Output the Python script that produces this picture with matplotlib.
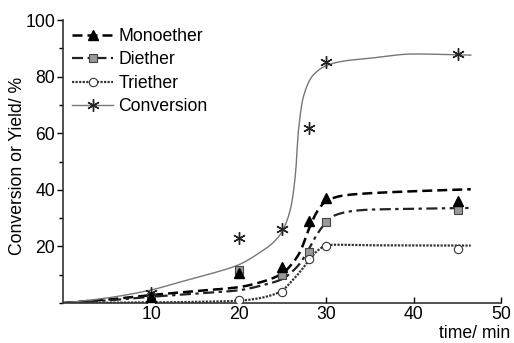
import numpy as np
import matplotlib
matplotlib.use("Agg")
import matplotlib.pyplot as plt
from matplotlib.ticker import MultipleLocator

plt.rcParams['font.family'] = ['Liberation Sans', 'DejaVu Sans']

# measured points
t_pts = [10, 20, 25, 28, 30, 45]
mono_pts = [2.0, 10.6, 12.7, 29.0, 37.0, 36.0]
di_pts = [2.2, 11.7, 10.0, 18.0, 28.5, 33.0]
tri_pts = [0.5, 1.0, 4.0, 15.5, 20.0, 19.0]
conv_pts = [3.5, 23.0, 26.0, 62.0, 85.0, 88.0]

# fitted curves
conv_ft = [0, 5, 10, 13.3, 17, 20, 22, 24.7, 25.9, 26.5, 26.8, 27.4, 28.5, 30.1, 32, 35, 40, 46.5]
conv_fy = [0, 1.8, 4.6, 7.4, 10.5, 13.5, 17, 24, 33, 46, 60, 73, 80.5, 84, 85.5, 86.5, 88, 87.6]
mono_ft = [0, 5, 10, 15, 20, 23, 25, 26, 27, 28, 29, 30, 32, 35, 40, 46.5]
mono_fy = [0, 1.2, 2.8, 4.2, 5.6, 7.8, 10.5, 13.5, 18, 26, 32.5, 36, 38, 38.8, 39.5, 40.2]
di_ft = [0, 5, 10, 15, 20, 23, 25, 26, 27, 28, 29, 30, 31, 33, 35, 40, 46.5]
di_fy = [0, 0.9, 2.2, 3.3, 4.5, 6.5, 8.5, 10.8, 14, 19, 24.5, 28.5, 31, 32.5, 33, 33.3, 33.6]
tri_ft = [0, 10, 15, 20, 22, 24, 25, 26, 27, 28, 29, 30, 31, 35, 46.5]
tri_fy = [0, 0.2, 0.4, 0.8, 1.5, 3, 4.5, 7.5, 11, 15, 18.5, 20.3, 20.6, 20.4, 20.3]


def pchip(x, y, xn):
    x = np.asarray(x, float); y = np.asarray(y, float)
    h = np.diff(x); d = np.diff(y) / h
    n = len(x); m = np.zeros(n)
    for k in range(1, n - 1):
        if d[k - 1] * d[k] > 0:
            w1 = 2 * h[k] + h[k - 1]; w2 = h[k] + 2 * h[k - 1]
            m[k] = (w1 + w2) / (w1 / d[k - 1] + w2 / d[k])
    m[0] = d[0]; m[-1] = d[-1]
    idx = np.clip(np.searchsorted(x, xn) - 1, 0, n - 2)
    hh = h[idx]; s = (xn - x[idx]) / hh
    h00 = 2 * s**3 - 3 * s**2 + 1; h10 = s**3 - 2 * s**2 + s
    h01 = -2 * s**3 + 3 * s**2; h11 = s**3 - s**2
    return h00 * y[idx] + h10 * hh * m[idx] + h01 * y[idx + 1] + h11 * hh * m[idx + 1]


fig = plt.figure(figsize=(5.14, 3.43), dpi=100)
ax = fig.add_axes([0.1235, 0.1166, 0.852, 0.825])

def smooth(xs, ys):
    xn = np.linspace(xs[0], xs[-1], 400)
    return xn, pchip(xs, ys, xn)

# curves
x, y = smooth(mono_ft, mono_fy)
ax.plot(x, y, color='black', lw=1.8, ls=(0, (4, 2)), zorder=2)
x, y = smooth(di_ft, di_fy)
ax.plot(x, y, color='#222222', lw=1.6, ls=(0, (5, 2, 1.5, 2)), zorder=2)
x, y = smooth(tri_ft, tri_fy)
ax.plot(x, y, color='#333333', lw=1.6, ls=(0, (1, 0.6)), zorder=2)
x, y = smooth(conv_ft, conv_fy)
ax.plot(x, y, color='#777777', lw=1.0, zorder=2)

# markers
ax.plot(t_pts, di_pts, ls='none', marker='s', ms=6, mfc='#999999', mec='#444444', mew=0.8, zorder=3)
ax.plot(t_pts, mono_pts, ls='none', marker='^', ms=7, mfc='black', mec='black', zorder=4)
ax.plot(t_pts, tri_pts, ls='none', marker='o', ms=6, mfc='white', mec='#333333', mew=0.8, zorder=3)
ax.plot(t_pts, conv_pts, ls='none', marker=(6, 2, 0), ms=9, mec='#222222', mew=1.0, zorder=3)

# legend handles
h1, = ax.plot([], [], color='black', lw=1.8, ls=(0, (4, 2)), marker='^', ms=7, mfc='black', mec='black')
h2, = ax.plot([], [], color='#222222', lw=1.6, ls=(0, (5, 2, 1.5, 2)), marker='s', ms=6, mfc='#999999', mec='#444444', mew=0.8)
h3, = ax.plot([], [], color='#333333', lw=1.6, ls=(0, (1, 0.6)), marker='o', ms=6, mfc='white', mec='#333333', mew=0.8)
h4, = ax.plot([], [], color='#777777', lw=1.0, marker=(6, 2, 0), ms=9, mec='#222222', mew=1.0)
leg = ax.legend([h1, h2, h3, h4], ['Monoether', 'Diether', 'Triether', 'Conversion'],
                loc='upper left', bbox_to_anchor=(-0.008, 1.015), frameon=False, fontsize=12.7,
                handlelength=2.3, handletextpad=0.3, labelspacing=0.36, borderaxespad=0.3)

ax.set_xlim(0, 50)
ax.set_ylim(0, 100)
ax.set_xticks([10, 20, 30, 40, 50])
ax.set_yticks([20, 40, 60, 80, 100])
ax.yaxis.set_minor_locator(MultipleLocator(10))
ax.tick_params(axis='y', labelsize=12.7, direction='out', length=4, width=1, pad=2)
ax.tick_params(axis='x', labelsize=12.7, direction='in', length=4, width=1, pad=2)
ax.tick_params(axis='y', which='minor', length=3, width=1)
for s in ['top', 'right']:
    ax.spines[s].set_visible(False)
for s in ['left', 'bottom']:
    ax.spines[s].set_color('#333333')
    ax.spines[s].set_linewidth(1.2)

ax.set_ylabel('Conversion or Yield/ %', fontsize=12.7)
ax.yaxis.set_label_coords(-0.085, 0.484)
fig.text(0.992, 0.028, 'time/ min', fontsize=12.7, ha='right', va='center')

fig.savefig('out.png', dpi=100)
